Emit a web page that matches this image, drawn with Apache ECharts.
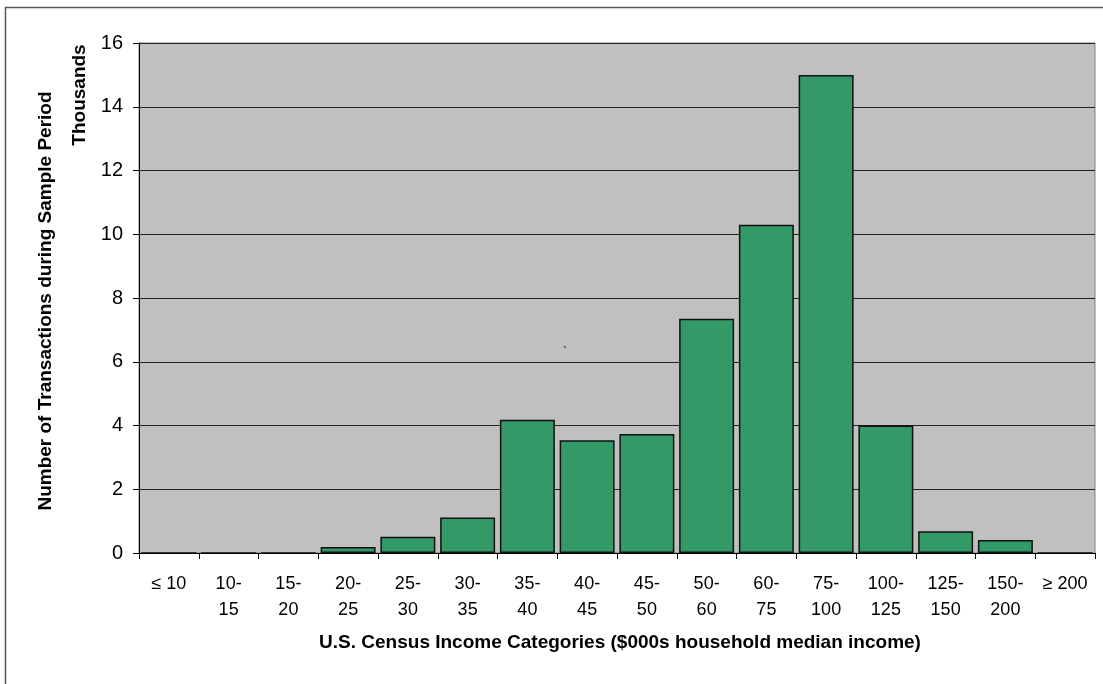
<!DOCTYPE html>
<html>
<head>
<meta charset="utf-8">
<script src="https://cdn.jsdelivr.net/npm/echarts@6/dist/echarts.min.js"></script>
<style>
  html, body { margin: 0; padding: 0; background: #ffffff; }
  #chart { width: 1103px; height: 684px; }
</style>
</head>
<body>
<div id="chart"></div>
<script>
// Income bands (thousands of USD, household median income)
const categories = ['≤ 10', '10-15', '15-20', '20-25', '25-30', '30-35', '35-40', '40-45',
  '45-50', '50-60', '60-75', '75-100', '100-125', '125-150', '150-200', '≥ 200'];
// Transactions per band, in thousands
const transactions = [0, 0, 0, 0.19, 0.51, 1.11, 4.18, 3.54, 3.73, 7.35, 10.3, 15.0, 4.0, 0.68, 0.41, 0];
const yTicks = { min: 0, max: 16, step: 2 };

const xTitle = 'U.S. Census Income Categories ($000s household median income)';
const yTitle = 'Number of Transactions during Sample Period';
const yUnit = 'Thousands';

const chart = echarts.init(document.getElementById('chart'), null, { renderer: 'canvas' });
const font = '"Liberation Sans", Arial, sans-serif';

chart.setOption({
  animation: false,
  backgroundColor: '#ffffff',
  grid: {
    left: 139, right: 8, top: 43, bottom: 131,
    show: true, backgroundColor: '#c0c0c0', borderColor: '#808080', borderWidth: 1
  },
  xAxis: {
    type: 'category',
    data: categories,
    axisLine: { lineStyle: { color: '#000', width: 1 } },
    axisTick: { show: true, length: 6, alignWithLabel: false, lineStyle: { color: '#000' } },
    axisLabel: {
      color: '#000', fontFamily: font, fontSize: 18, lineHeight: 26, margin: 18,
      interval: 0,
      formatter: v => v.replace('-', '-\n')
    },
    splitLine: { show: false }
  },
  yAxis: {
    type: 'value',
    min: yTicks.min, max: yTicks.max, interval: yTicks.step,
    axisLine: { show: true, lineStyle: { color: '#000', width: 1 } },
    axisTick: { show: true, length: 6, lineStyle: { color: '#000' } },
    axisLabel: { color: '#000', fontFamily: font, fontSize: 20, margin: 16 },
    splitLine: { show: true, lineStyle: { color: '#222', width: 1 } }
  },
  series: [{
    type: 'bar',
    data: transactions,
    barCategoryGap: '8%',
    itemStyle: { color: '#339966', borderColor: '#111', borderWidth: 1.5 }
  }],
  graphic: [
    {
      type: 'rect', silent: true,
      shape: { x: 5.5, y: 7.5, width: 1300, height: 900 },
      style: { fill: null, stroke: '#555', lineWidth: 1.5 }
    },
    {
      type: 'text', x: 620, y: 643,
      style: { text: xTitle, font: 'bold 19px ' + font, fill: '#000',
               textAlign: 'center', textVerticalAlign: 'middle' }
    },
    {
      type: 'text', x: 46, y: 301, rotation: Math.PI / 2,
      style: { text: yTitle, font: 'bold 19px ' + font, fill: '#000',
               textAlign: 'center', textVerticalAlign: 'middle' }
    },
    {
      type: 'text', x: 80, y: 95, rotation: Math.PI / 2,
      style: { text: yUnit, font: 'bold 19px ' + font, fill: '#000',
               textAlign: 'center', textVerticalAlign: 'middle' }
    },
    {
      type: 'text', x: 565, y: 353,
      style: { text: '`', font: '12px ' + font, fill: '#000',
               textAlign: 'center', textVerticalAlign: 'middle' }
    }
  ]
});
</script>
</body>
</html>
